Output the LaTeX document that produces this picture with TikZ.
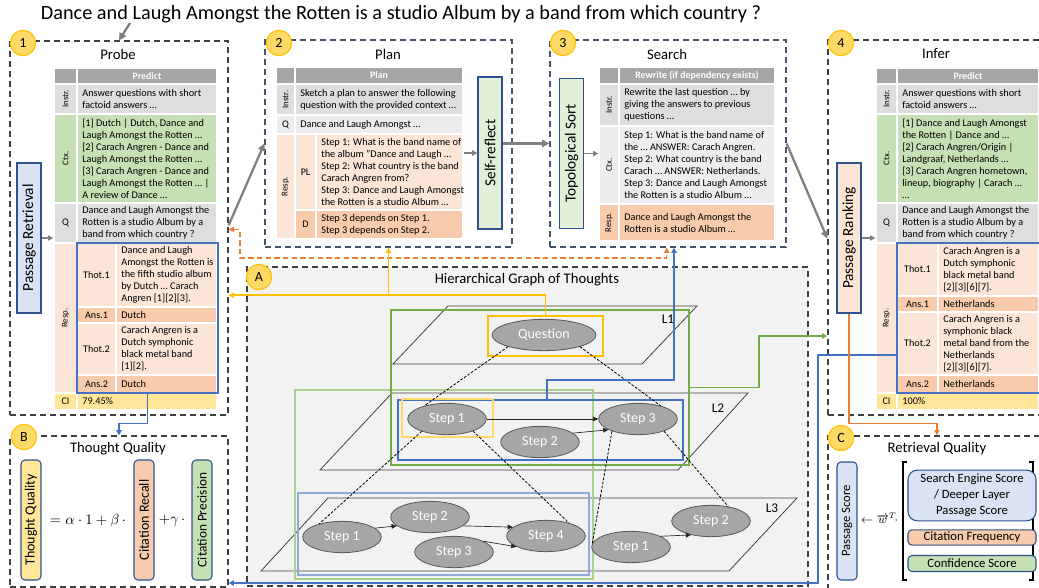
\documentclass[tikz,border=0pt]{standalone}
\usepackage{fontspec}
\setmainfont{Carlito}
\usetikzlibrary{shapes.geometric,arrows.meta,fit,calc}

\definecolor{cHead}{HTML}{A6A6A6}
\definecolor{cGray}{HTML}{DEDEDE}
\definecolor{cLGray}{HTML}{EDEDED}
\definecolor{cGreen}{HTML}{C5E0B4}
\definecolor{cGreenL}{HTML}{E2F0D9}
\definecolor{cPeach}{HTML}{FBE5D6}
\definecolor{cPeachD}{HTML}{F8CBAD}
\definecolor{cYel}{HTML}{FFE699}
\definecolor{cBlueL}{HTML}{DAE3F3}
\definecolor{cNavy}{HTML}{2F528F}
\definecolor{cBadge}{HTML}{FFD966}
\definecolor{cBadgeD}{HTML}{FFC000}
\definecolor{cBlue}{HTML}{4472C4}
\definecolor{cLBlue}{HTML}{8FAADC}
\definecolor{cOrange}{HTML}{ED7D31}
\definecolor{cDGreen}{HTML}{70AD47}
\definecolor{cLGreen}{HTML}{A9D18E}
\definecolor{cYLine}{HTML}{FFC000}
\definecolor{cYLight}{HTML}{FFD966}
\definecolor{cArrow}{HTML}{7F7F7F}
\definecolor{cDark}{HTML}{404040}
\definecolor{cSlate}{HTML}{44546A}
\definecolor{cPanelA}{HTML}{F2F2F2}
\definecolor{cEll}{HTML}{A6A6A6}
\definecolor{cEllD}{HTML}{595959}

% table cells: name, x1, y1, x2, y2, fill, text
\newcommand{\tabcell}[7]{%
  \pgfmathsetmacro{\cellw}{(#4-#2)*0.75}%
  \pgfmathsetmacro{\cellh}{(#5-#3)*0.75}%
  \node[cellbox, fill=#6, minimum width=\cellw pt, minimum height=\cellh pt] (#1) at ({(#2+#4)/2},{(#3+#5)/2}) {};
  \node[ctext, anchor=west] at ([xshift=4.3pt]#1.west) {#7};}
\newcommand{\labcell}[8]{%
  \pgfmathsetmacro{\cellw}{(#4-#2)*0.75}%
  \pgfmathsetmacro{\cellh}{(#5-#3)*0.75}%
  \node[cellbox, fill=#6, minimum width=\cellw pt, minimum height=\cellh pt] (#1) at ({(#2+#4)/2},{(#3+#5)/2}) {};
  \node[ltext, #8] at (#1.center) {#7};}

\begin{document}
\begin{tikzpicture}[x=0.75pt,y=-0.75pt,
  panel/.style={draw=#1, dash pattern=on 4.5pt off 3pt, line width=0.9pt, inner sep=0pt},
  badge/.style={circle, fill=cBadge, draw=cBadgeD, line width=0.8pt, minimum size=19pt, inner sep=0pt, font=\fontsize{10.5}{12}\selectfont},
  ptitle/.style={font=\fontsize{11}{13}\selectfont},
  cellbox/.style={draw=white, line width=1pt, inner sep=0pt},
  ctext/.style={inner sep=0pt, align=left, font=\fontsize{7.7}{9}\selectfont},
  ltext/.style={inner sep=0pt, font=\fontsize{7.6}{9}\selectfont},
  vlab/.style={rotate=90, font=\fontsize{6.6}{7}\selectfont},
  hlab/.style={text=white, font=\fontsize{7.4}{9}\selectfont\bfseries},
  vbox/.style={draw=cNavy, line width=0.8pt, rotate=90, inner sep=0pt, font=\fontsize{11.5}{13}\selectfont},
  sbox/.style={draw=cNavy, line width=0.8pt, rounded corners=3pt, inner sep=0pt, align=center, font=\fontsize{9.5}{12}\selectfont},
  thought/.style={ellipse, fill=cEll, draw=cEllD, line width=0.6pt, minimum width=59pt, minimum height=23.5pt, inner sep=0pt, text=white, font=\fontsize{10.5}{12}\selectfont},
  plane/.style={draw=cDark, line width=0.6pt},
  grp/.style={draw=#1, line width=1.1pt, inner sep=0pt},
  garrow/.style={draw=cArrow, line width=1.7pt, -{Triangle[length=5.5pt,width=5.5pt]}},
  sarrow/.style={draw=cArrow, line width=1pt, -{Triangle[length=4pt,width=4pt]}},
  carrow/.style={draw=#1, line width=1.2pt, -{Triangle[length=4pt,width=4pt]}},
  flow/.style={draw=black!85, line width=0.5pt, -{Triangle[length=4pt,width=3.5pt]}},
  dep/.style={draw=black, line width=0.6pt, dash pattern=on 2pt off 1.2pt}]
\useasboundingbox (0,0) rectangle (1039,588);
\clip (0,0) rectangle (1039,588);

\node[font=\fontsize{15.2}{17}\selectfont] (question) at (401,14) {Dance and Laugh Amongst the Rotten is a studio Album by a band from which country ?};
\coordinate (qtail) at (130,23);

% panels
\node[panel=cDark, fit={(10,41) (228,415)}] (probe) {};
\node[panel=cSlate, fit={(265,40) (512,247)}] (plan) {};
\node[panel=cSlate, fit={(550,40) (786,247)}] (search) {};
\node[panel=cDark, fit={(828,40) (1046,415)}] (infer) {};
\node[panel=cDark, fill=cPanelA, fit={(247,267) (808,586)}] (hgot) {};
\node[panel=cDark, fit={(10,436) (228,587)}] (tq) {};
\node[panel=cDark, fit={(828,436) (1046,592)}] (rq) {};

\node[ptitle] (tProbe) at (118,54) {Probe};
\node[ptitle] (tPlan) at (388,54) {Plan};
\node[ptitle] (tSearch) at (667,54) {Search};
\node[ptitle] (tInfer) at (936,54) {Infer};
\node[ptitle] (tHgot) at (527,280) {Hierarchical Graph of Thoughts};
\node[ptitle] (tTq) at (118,449) {Thought Quality};
\node[ptitle] (tRq) at (937,449) {Retrieval Quality};

% probe
\node[vbox, fill=cBlueL, minimum width=112.5pt, minimum height=18pt] (retr) at (29,238) {Passage Retrieval};
\labcell{pH0}{54}{68}{77}{84}{cHead}{}{}
\labcell{pH}{77}{68}{217}{84}{cHead}{Predict}{hlab}
\labcell{pI0}{54}{84}{77}{114}{cGray}{Instr.}{vlab}
\tabcell{pI}{77}{84}{217}{114}{cGray}{Answer questions with short\\factoid answers …}
\labcell{pC0}{54}{114}{77}{203}{cGreen}{Ctx.}{vlab}
\tabcell{pC}{77}{114}{217}{203}{cGreen}{[1] Dutch | Dutch, Dance and\\Laugh Amongst the Rotten …\\{}[2] Carach Angren - Dance and\\Laugh Amongst the Rotten …\\{}[3] Carach Angren - Dance and\\Laugh Amongst the Rotten … |\\A review of Dance …}
\labcell{pQ0}{54}{203}{77}{243}{cGray}{Q}{}
\tabcell{pQ}{77}{203}{217}{243}{cGray}{Dance and Laugh Amongst the\\Rotten is a studio Album by a\\band from which country ?}
\labcell{pR0}{54}{243}{77}{393}{cPeach}{Resp.}{vlab}
\labcell{pT1l}{77}{243}{116}{307}{cPeach}{Thot.1}{}
\tabcell{pT1}{116}{243}{217}{307}{cPeach}{Dance and Laugh\\Amongst the Rotten is\\the fifth studio album\\by Dutch … Carach\\Angren [1][2][3].}
\labcell{pA1l}{77}{307}{116}{323}{cPeachD}{Ans.1}{}
\tabcell{pA1}{116}{307}{217}{323}{cPeachD}{Dutch}
\labcell{pT2l}{77}{323}{116}{375}{cPeach}{Thot.2}{}
\tabcell{pT2}{116}{323}{217}{375}{cPeach}{Carach Angren is a\\Dutch symphonic\\black metal band\\{}[1][2].}
\labcell{pA2l}{77}{375}{116}{393}{cPeachD}{Ans.2}{}
\tabcell{pA2}{116}{375}{217}{393}{cPeachD}{Dutch}
\labcell{pCI0}{54}{393}{77}{410}{cYel}{CI}{}
\tabcell{pCI}{77}{393}{217}{410}{cYel}{79.45\%}
\node[grp=cBlue, line width=0.9pt, fit={(77,243) (218,393)}] (pResp) {};
\draw[sarrow] (retr.south) -- (retr.south -| pQ0.west);

% plan
\labcell{lH0}{276}{67}{295}{84}{cHead}{}{}
\labcell{lH}{295}{67}{463}{84}{cHead}{Plan}{hlab}
\labcell{lI0}{276}{84}{295}{115}{cGray}{Instr.}{vlab}
\tabcell{lI}{295}{84}{463}{115}{cGray}{Sketch a plan to answer the following\\question with the provided context …}
\labcell{lQ0}{276}{115}{295}{134}{cLGray}{Q}{}
\tabcell{lQ}{295}{115}{463}{134}{cLGray}{Dance and Laugh Amongst …}
\labcell{lR0}{276}{134}{295}{239}{cPeach}{Resp.}{vlab}
\labcell{lPL0}{295}{134}{316}{210}{cPeach}{PL}{}
\tabcell{lPL}{316}{134}{463}{210}{cPeach}{Step 1: What is the band name of\\the album "Dance and Laugh …\\Step 2: What country is the band\\Carach Angren from?\\Step 3: Dance and Laugh Amongst\\the Rotten is a studio Album …}
\labcell{lD0}{295}{210}{316}{239}{cPeachD}{D}{}
\tabcell{lD}{316}{210}{463}{239}{cPeachD}{Step 3 depends on Step 1.\\Step 3 depends on Step 2.}
\node[vbox, fill=cGreenL, minimum width=114pt, minimum height=18pt] (reflect) at (490,153) {Self-reflect};
\draw[sarrow] (lPL.east |- reflect.north) -- (reflect.north);

% search
\node[vbox, fill=cGreenL, minimum width=113pt, minimum height=18pt] (topo) at (571.5,153.5) {Topological Sort};
\labcell{sH0}{599}{67}{619}{84}{cHead}{}{}
\labcell{sH}{619}{67}{775}{84}{cHead}{Rewrite (if dependency exists)}{hlab}
\labcell{sI0}{599}{84}{619}{126}{cGray}{Instr.}{vlab}
\tabcell{sI}{619}{84}{775}{126}{cGray}{Rewrite the last question … by\\giving the answers to previous\\questions …}
\labcell{sC0}{599}{126}{619}{204}{cLGray}{Ctx.}{vlab}
\tabcell{sC}{619}{126}{775}{204}{cLGray}{Step 1: What is the band name of\\the … ANSWER: Carach Angren.\\Step 2: What country is the band\\Carach … ANSWER: Netherlands.\\Step 3: Dance and Laugh Amongst\\the Rotten is a studio Album …}
\labcell{sR0}{599}{204}{619}{241}{cPeachD}{Resp.}{vlab}
\tabcell{sR}{619}{204}{775}{241}{cPeachD}{Dance and Laugh Amongst the\\Rotten is a studio Album …}
\draw[sarrow] (topo.south) -- (topo.south -| sC0.west);

% infer
\node[vbox, fill=cPeach, minimum width=112.5pt, minimum height=18pt] (rank) at (849,238) {Passage Ranking};
\labcell{iH0}{876}{68}{897}{84}{cHead}{}{}
\labcell{iH}{897}{68}{1039}{84}{cHead}{Predict}{hlab}
\labcell{iI0}{876}{84}{897}{114}{cGray}{Instr.}{vlab}
\tabcell{iI}{897}{84}{1039}{114}{cGray}{Answer questions with short\\factoid answers …}
\labcell{iC0}{876}{114}{897}{203}{cGreen}{Ctx.}{vlab}
\tabcell{iC}{897}{114}{1039}{203}{cGreen}{[1] Dance and Laugh Amongst\\the Rotten | Dance and …\\{}[2] Carach Angren/Origin |\\Landgraaf, Netherlands …\\{}[3] Carach Angren hometown,\\lineup, biography | Carach …\\…}
\labcell{iQ0}{876}{203}{897}{243}{cGray}{Q}{}
\tabcell{iQ}{897}{203}{1039}{243}{cGray}{Dance and Laugh Amongst the\\Rotten is a studio Album by a\\band from which country ?}
\labcell{iR0}{876}{243}{897}{393}{cPeach}{Resp.}{vlab}
\labcell{iT1l}{897}{243}{938}{296}{cPeach}{Thot.1}{}
\tabcell{iT1}{938}{243}{1039}{296}{cPeach}{Carach Angren is a\\Dutch symphonic\\black metal band\\{}[2][3][6][7].}
\labcell{iA1l}{897}{296}{938}{312}{cPeachD}{Ans.1}{}
\tabcell{iA1}{938}{296}{1039}{312}{cPeachD}{Netherlands}
\labcell{iT2l}{897}{312}{938}{375}{cPeach}{Thot.2}{}
\tabcell{iT2}{938}{312}{1039}{375}{cPeach}{Carach Angren is a\\symphonic black\\metal band from the\\Netherlands\\{}[2][3][6][7].}
\labcell{iA2l}{897}{375}{938}{393}{cPeachD}{Ans.2}{}
\tabcell{iA2}{938}{375}{1039}{393}{cPeachD}{Netherlands}
\labcell{iCI0}{876}{393}{897}{410}{cYel}{CI}{}
\tabcell{iCI}{897}{393}{1039}{410}{cYel}{100\%}
\node[grp=cBlue, line width=0.9pt, fit={(897,243) (1041,393)}] (iResp) {};
\draw[sarrow] (rank.south) -- (rank.south -| iQ0.west);

% thought quality
\node[vbox, rounded corners=3pt, fill=cYel, minimum width=90pt, minimum height=15pt, font=\fontsize{10.5}{12}\selectfont] (qThought) at (31,520) {Thought Quality};
\node[font=\fontsize{11}{13}\selectfont] (alpha) at (88,521) {$=\alpha\cdot 1+\beta\,\cdot$};
\node[vbox, rounded corners=3pt, fill=cPeachD, minimum width=90pt, minimum height=15pt, font=\fontsize{10.5}{12}\selectfont] (qRecall) at (144,520) {Citation Recall};
\node[font=\fontsize{11}{13}\selectfont] (gamma) at (172,521) {$+\gamma\,\cdot$};
\node[vbox, rounded corners=3pt, fill=cGreen, minimum width=90pt, minimum height=15pt, font=\fontsize{10}{12}\selectfont] (qPrec) at (202,520) {Citation Precision};

% retrieval quality
\node[vbox, rounded corners=3pt, fill=cBlueL, minimum width=88.5pt, minimum height=15pt, font=\fontsize{9.5}{11}\selectfont] (pScore) at (847,521) {Passage Score};
\node[font=\fontsize{9}{11}\selectfont, inner sep=0pt] (wT) at (879.5,518) {$\leftarrow\overrightarrow{w}^{T}\!\cdot$};
\draw[line width=0.9pt] (907,462) -| (903,580) -- (907,580);
\draw[line width=0.9pt] (1029,462) -| (1033,580) -- (1029,580);
\node[sbox, rounded corners=7pt, fill=cBlueL, minimum width=96pt, minimum height=38pt] (seScore) at (972,495.5) {Search Engine Score\\/ Deeper Layer\\Passage Score};
\node[sbox, fill=cPeachD, minimum width=96pt, minimum height=11.5pt] (cFreq) at (972,537.5) {Citation Frequency};
\node[sbox, fill=cGreen, minimum width=96pt, minimum height=12pt] (cConf) at (972,563.5) {Confidence Score};

% graph of thoughts
\draw[plane] (448,306) -- (697,306) -- (642,364) -- (393,364) -- cycle;
\draw[plane] (392,393) -- (748,393) -- (678,470) -- (320,470) -- cycle;
\draw[plane] (328,498) -- (797,498) -- (729,571) -- (261,571) -- cycle;
\node[font=\fontsize{10}{12}\selectfont] (l1) at (668,319) {L1};
\node[font=\fontsize{10}{12}\selectfont] (l2) at (718,408) {L2};
\node[font=\fontsize{10}{12}\selectfont] (l3) at (772,508) {L3};

\node[grp=cLGreen, fit={(295,390) (593,579)}] (gLGreen) {};
\node[grp=cDGreen, fit={(391,310) (689,465)}] (gGreen) {};
\node[grp=cBlue, fit={(398,400) (683,460)}] (gBlue) {};
\node[grp=cLBlue, fit={(298,493) (589,575)}] (gLBlue) {};
\node[grp=cYLight, fit={(402,399) (493,437)}] (yStep) {};
\node[grp=cYLine, fit={(488,316) (603,356)}] (yQ) {};

\node[thought, minimum width=78pt] (q) at (544,335) {Question};
\node[thought] (s21) at (447,419) {Step 1};
\node[thought] (s22) at (540,442) {Step 2};
\node[thought] (s23) at (638,419) {Step 3};
\node[thought] (s31) at (342,537) {Step 1};
\node[thought] (s32) at (430,517) {Step 2};
\node[thought] (s33) at (454,552) {Step 3};
\node[thought] (s34) at (546,536) {Step 4};
\node[thought] (s35) at (631,547) {Step 1};
\node[thought] (s36) at (711,521) {Step 2};

\draw[dep] (q.198) -- (s21.150);
\draw[dep] (q.342) -- (s23.30);
\draw[dep] (s21.206) -- (s31.150);
\draw[dep] (s21.335) -- (s34.30);
\draw[dep] (s23.205) -- (s35.175);
\draw[dep] (s23.335) -- (s36.40);
\draw[flow] (s21) -- (s23);
\draw[flow] (s22.15) -- (s23.200);
\draw[flow] (s31.15) -- (s32.195);
\draw[flow] (s32.345) -- (s34.165);
\draw[flow] (s33.20) -- (s34.200);
\draw[flow] (s35.20) -- (s36.215);

% connectors between stages
\draw[garrow] (qtail) -- (probe.north);
\draw[garrow] ([yshift=2pt]probe.east) -- (plan.west);
\draw[garrow] (reflect.south |- search.west) -- (search.west);
\draw[garrow] (search.east) -- ($(infer.west)+(0,11)$);
\draw[carrow=cOrange, dash pattern=on 4pt off 2.5pt, {Triangle[length=4pt,width=4pt]}-{Triangle[length=4pt,width=4pt]}] ([yshift=-1pt]probe.east) -| (240,258) -| ([xshift=-1pt]search.south);
\draw[carrow=cYLine] (yQ.north) -- ++(0,-20) coordinate (yk) -- (yk -| probe.east);
\draw[carrow=cYLine] (yk -| plan.south) -- (plan.south);
\draw[carrow=cBlue] (gBlue.north -| 547,0) -- ++(0,-19) -| ([xshift=4.5pt]search.south);
\draw[carrow=cDGreen] (gGreen.east) -- ++(69,0) |- (infer.west |- 0,336);
\draw[carrow=cBlue] (iResp.west |- 0,355) -| (818,583) -- (tq.east |- 0,583);
\draw[carrow=cBlue] (pResp.south) -- ++(0,30) -| (tq.north);
\draw[carrow=cOrange] (rank.west) -- ++(0,110) -| (rq.north);

% badges
\node[badge] (b1) at (23,43) {1};
\node[badge] (b2) at (279,43) {2};
\node[badge] (b3) at (563,43) {3};
\node[badge] (b4) at (841,43) {4};
\node[badge] (bA) at (259,277) {A};
\node[badge] (bB) at (24,437) {B};
\node[badge] (bC) at (841,438) {C};
\end{tikzpicture}
\end{document}
